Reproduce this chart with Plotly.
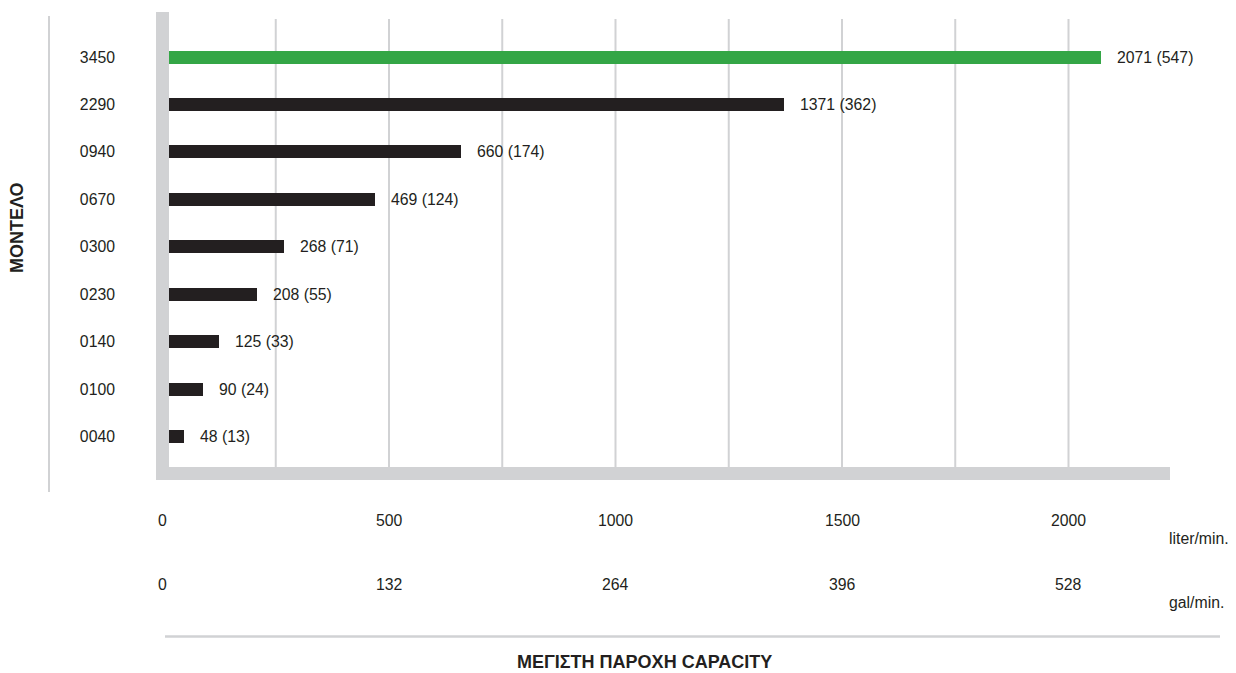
import plotly.graph_objects as go

# ---- data ----
models = ["0040", "0100", "0140", "0230", "0300", "0670", "0940", "2290", "3450"]
liters = [48, 90, 125, 208, 268, 469, 660, 1371, 2071]
gallons = [13, 24, 33, 55, 71, 124, 174, 362, 547]
highlight_model = "3450"

liter_ticks = [0, 500, 1000, 1500, 2000]
liter_tick_labels = ["0", "500", "1000", "1500", "2000"]
gal_tick_labels = ["0", "132", "264", "396", "528"]
grid_values = [250, 500, 750, 1000, 1250, 1500, 1750, 2000]

y_title = "ΜΟΝΤΕΛΟ"
x_title = "ΜΕΓΙΣΤΗ ΠΑΡΟΧΗ CAPACITY"
unit_liter = "liter/min."
unit_gal = "gal/min."

# ---- style ----
W, H = 1236, 673
ML, MR, MT, MB = 156, 66, 12, 200
PW = W - ML - MR
PH = H - MT - MB
GRAY = "#d1d2d4"
DARK = "#231f20"
GREEN = "#34a646"
FONT = "Liberation Sans, Arial, sans-serif"
FS = 15.8
TFS = 18


def px_x(q):
    return (q - ML) / PW


def px_y(p):
    return (H - MB - p) / PH


colors = [GREEN if m == highlight_model else DARK for m in models]

fig = go.Figure()
fig.add_trace(go.Bar(
    y=models, x=liters, orientation="h",
    marker=dict(color=colors, line=dict(width=0)),
    width=0.274, hoverinfo="skip",
))

annotations = []
for i, (l, g) in enumerate(zip(liters, gallons)):
    annotations.append(dict(
        x=l, y=i, xref="x", yref="y", text=f"{l} ({g})",
        showarrow=False, xanchor="left", yanchor="middle", xshift=14,
        font=dict(size=FS, color=DARK, family=FONT),
    ))

for v, lt, gt in zip(liter_ticks, liter_tick_labels, gal_tick_labels):
    annotations.append(dict(
        x=v, y=px_y(520), xref="x", yref="paper", text=lt, showarrow=False,
        xanchor="center", yanchor="middle", font=dict(size=FS, color=DARK, family=FONT),
    ))
    annotations.append(dict(
        x=v, y=px_y(584), xref="x", yref="paper", text=gt, showarrow=False,
        xanchor="center", yanchor="middle", font=dict(size=FS, color=DARK, family=FONT),
    ))

annotations += [
    dict(x=px_x(1167), y=px_y(538), xref="paper", yref="paper", text=unit_liter,
         showarrow=False, xanchor="left", yanchor="middle",
         font=dict(size=FS, color=DARK, family=FONT)),
    dict(x=px_x(1167), y=px_y(603), xref="paper", yref="paper", text=unit_gal,
         showarrow=False, xanchor="left", yanchor="middle",
         font=dict(size=FS, color=DARK, family=FONT)),
    dict(x=px_x(644), y=px_y(662), xref="paper", yref="paper", text=f"<b>{x_title}</b>",
         showarrow=False, xanchor="center", yanchor="middle",
         font=dict(size=TFS, color=DARK, family=FONT)),
    dict(x=px_x(17), y=px_y(228), xref="paper", yref="paper", text=f"<b>{y_title}</b>",
         showarrow=False, xanchor="center", yanchor="middle", textangle=-90,
         font=dict(size=TFS, color=DARK, family=FONT)),
]

shapes = []
for v in grid_values:
    shapes.append(dict(type="line", xref="x", yref="paper", x0=v, x1=v,
                       y0=px_y(467), y1=px_y(19), line=dict(color=GRAY, width=2), layer="below"))
# thick axis bars
shapes.append(dict(type="rect", xref="paper", yref="paper", x0=px_x(156), x1=px_x(169),
                   y0=px_y(480), y1=px_y(12), fillcolor=GRAY, line=dict(width=0), layer="above"))
shapes.append(dict(type="rect", xref="paper", yref="paper", x0=px_x(156), x1=px_x(1170),
                   y0=px_y(480), y1=px_y(467), fillcolor=GRAY, line=dict(width=0), layer="above"))
# thin decorative lines
shapes.append(dict(type="line", xref="paper", yref="paper", x0=px_x(49), x1=px_x(49),
                   y0=px_y(492), y1=px_y(16), line=dict(color=GRAY, width=2)))
shapes.append(dict(type="line", xref="paper", yref="paper", x0=px_x(165), x1=px_x(1220),
                   y0=px_y(636.5), y1=px_y(636.5), line=dict(color=GRAY, width=2.5)))

scale = 906 / 2000.0
fig.update_layout(
    width=W, height=H,
    margin=dict(l=ML, r=MR, t=MT, b=MB, pad=0),
    paper_bgcolor="white", plot_bgcolor="white",
    showlegend=False,
    font=dict(family=FONT, size=FS, color=DARK),
    xaxis=dict(range=[-6.5 / scale, (1170 - 162.5) / scale], showgrid=False, zeroline=False,
               showticklabels=False, showline=False, ticks="", fixedrange=True),
    yaxis=dict(type="category", categoryorder="array", categoryarray=models,
               range=[-0.77, 8.95], showgrid=False, zeroline=False, showline=False,
               ticks="", ticklabelstandoff=40, tickfont=dict(size=FS, color=DARK, family=FONT),
               fixedrange=True),
    annotations=annotations,
    shapes=shapes,
    bargap=0,
)

fig.write_html("out.html", config={"displayModeBar": False},
               post_script="document.body.style.margin='0';document.body.style.overflow='hidden';")
